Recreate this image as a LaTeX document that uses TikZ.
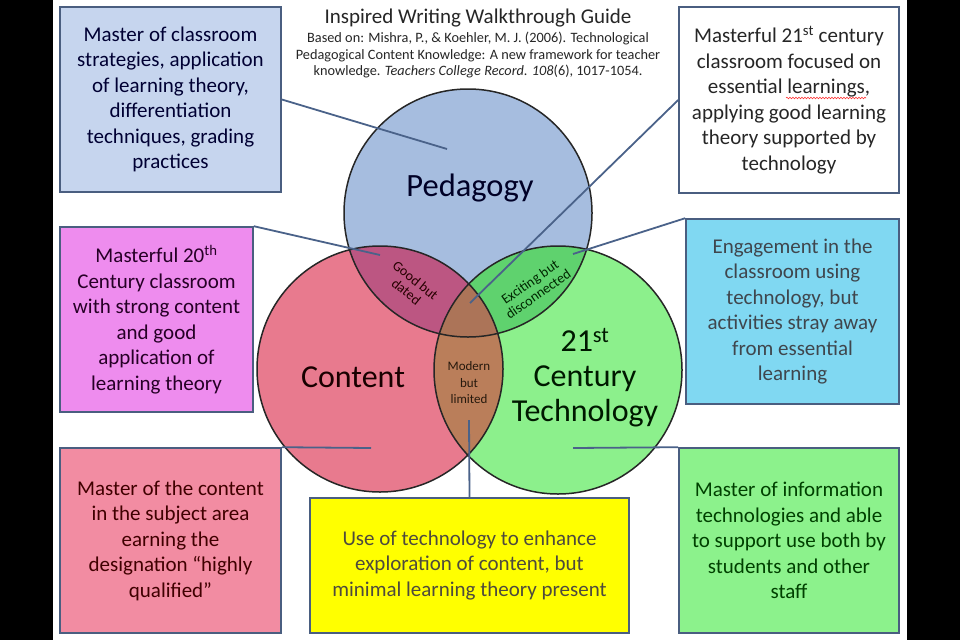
\documentclass[tikz,border=0pt]{standalone}
\usepackage{fontspec}
\setmainfont{Carlito}
\usetikzlibrary{decorations.pathmorphing}
\definecolor{boxline}{HTML}{4A5E80}
\definecolor{connline}{HTML}{4A6289}
\definecolor{bAfill}{HTML}{C6D5EE}
\definecolor{bMfill}{HTML}{EE8CEE}
\definecolor{bCfill}{HTML}{80D8F2}
\definecolor{bPfill}{HTML}{F28CA2}
\definecolor{bYfill}{HTML}{FFFF00}
\definecolor{bGfill}{HTML}{8CF28C}
\definecolor{pedfill}{HTML}{A6BDDF}
\definecolor{confill}{HTML}{E87A8E}
\definecolor{tecfill}{HTML}{8CF08C}
\definecolor{pcfill}{HTML}{BC5682}
\definecolor{ptfill}{HTML}{5FD26E}
\definecolor{ctfill}{HTML}{BA7E5A}
\definecolor{trifill}{HTML}{AC7458}
\newcommand{\boxfont}{\fontsize{21}{25.5}\selectfont}
\begin{document}
\begin{tikzpicture}[x=1pt,y=-1pt,
  box/.style={draw=boxline, line width=1.6pt, inner sep=0pt, align=center, font=\boxfont},
  conn/.style={draw=connline, line width=1.8pt},
  ring/.style={draw=black!85, line width=1.5pt},
  lbl/.style={align=center, inner sep=0pt}]
\useasboundingbox (0,0) rectangle (960,640);
\fill[black] (0,0) rectangle (960,640);
\fill[white] (53,0) rectangle (907,640);

% circles
\fill[pedfill] (468,213) circle (124);
\fill[confill] (380,369) circle (123);
\fill[tecfill] (558,370) circle (124);
\begin{scope}
  \clip (468,213) circle (124);
  \fill[pcfill] (380,369) circle (123);
  \fill[ptfill] (558,370) circle (124);
\end{scope}
\begin{scope}
  \clip (380,369) circle (123);
  \fill[ctfill] (558,370) circle (124);
  \clip (558,370) circle (124);
  \fill[trifill] (468,213) circle (124);
\end{scope}
\draw[ring] (468,213) circle (124);
\draw[ring] (380,369) circle (123);
\draw[ring] (558,370) circle (124);

% circle labels
\node[lbl, font=\fontsize{32.5}{35}\selectfont, text=black!85!blue] (ped) at (470,188) {Pedagogy};
\node[lbl, font=\fontsize{32}{35}\selectfont, text=black!90!red] (con) at (353,377) {Content};
\node[lbl, font=\fontsize{32}{35}\selectfont, text=black!90!green] (tec) at (585,378) {21\textsuperscript{st}\\Century\\Technology};
\node[lbl, rotate=-39, font=\fontsize{14}{14.5}\selectfont, text=black!85!red] (gbd) at (411,286) {Good but\\dated};
\node[lbl, rotate=35, font=\fontsize{14}{14.5}\selectfont, text=black!85!green] (ebd) at (534,288) {Exciting but\\disconnected};
\node[lbl, font=\fontsize{13}{16.5}\selectfont, text=black!80!brown] (mbl) at (469,383) {Modern\\but\\limited};

% title
\node[lbl, font=\fontsize{21}{22}\selectfont, text=black!85] (title) at (478,18) {Inspired Writing Walkthrough Guide};
\node[lbl, font=\fontsize{14.3}{16.5}\selectfont, text=black!85] (cite) at (478,55) {Based on: Mishra, P., \& Koehler, M. J. (2006). Technological\\Pedagogical Content Knowledge: A new framework for teacher\\knowledge. \textit{Teachers College Record. 108}(6), 1017-1054.};

% boxes
\node[box, fill=bAfill, text=black!80!blue, minimum width=221pt, minimum height=185pt] (bped) at (170.5,99.5)
  {Master of classroom\\strategies, application\\of learning theory,\\differentiation\\techniques, grading\\practices};
\node[box, fill=white, text=black!85, minimum width=220pt, minimum height=186pt] (b21) at (789,100)
  {Masterful 21\textsuperscript{st} century\\classroom focused on\\essential learnings,\\applying good learning\\theory supported by\\technology};
\node[box, fill=bMfill, text=black!70!violet, minimum width=193pt, minimum height=185pt] (b20) at (156.5,319.5)
  {Masterful 20\textsuperscript{th}\\Century classroom\\with strong content\\and good\\application of\\learning theory};
\node[box, fill=bCfill, text=black!80!cyan, minimum width=213pt, minimum height=185pt] (beng) at (792.5,311.5)
  {Engagement in the\\classroom using\\technology, but\\activities stray away\\from essential\\learning};
\node[box, fill=bPfill, text=black!75!red, minimum width=221pt, minimum height=185pt] (bcon) at (170.5,540.5)
  {Master of the content\\in the subject area\\earning the\\designation “highly\\qualified”};
\node[box, fill=bYfill, text=black!80!yellow, minimum width=319pt, minimum height=135pt] (buse) at (469.5,565.5)
  {Use of technology to enhance\\exploration of content, but\\minimal learning theory present};
\node[box, fill=bGfill, text=black!75!green, minimum width=220pt, minimum height=185pt] (btec) at (789,540.5)
  {Master of information\\technologies and able\\to support use both by\\students and other\\staff};

% spell-check squiggle
\draw[red!80, line width=0.6pt, decorate, decoration={snake, amplitude=0.8pt, segment length=3pt}] (786,98) -- (866,98);

% connector ends
\coordinate (eped) at (447,149);
\coordinate (egbd) at (380,255);
\coordinate (etri) at (470,303);
\coordinate (eebd) at (573,254);
\coordinate (econ) at (371,448);
\coordinate (etec) at (573,448);
\coordinate (embl) at (469,420);

\draw[conn] (bped.east) -- (eped);
\draw[conn] (b20.north east) -- (egbd);
\draw[conn] (b21.west) -- (etri);
\draw[conn] (beng.north west) -- (eebd);
\draw[conn] (bcon.north east) -- (econ);
\draw[conn] (btec.north west) -- (etec);
\draw[conn] (buse.north) -- (embl);
\end{tikzpicture}
\end{document}
